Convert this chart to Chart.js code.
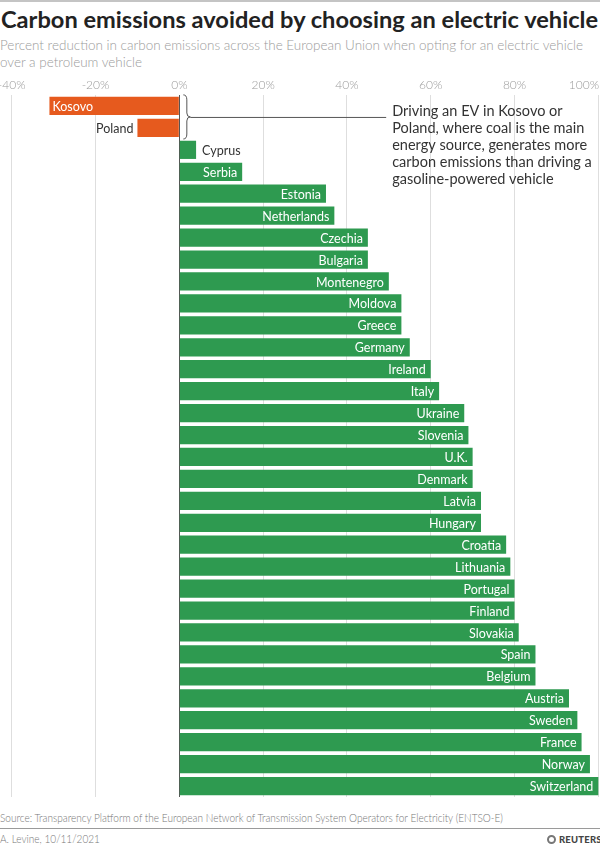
<!DOCTYPE html>
<html>
<head>
<meta charset="utf-8">
<script src="https://cdn.jsdelivr.net/npm/chart.js@4.4.0/dist/chart.umd.min.js"></script>
<style>
  html, body { margin: 0; padding: 0; background: #fff; }
  body { width: 600px; height: 850px; position: relative; overflow: hidden; font-family: Lato, "Noto Sans", sans-serif; }
  #topline { position: absolute; left: 0; top: 0; width: 600px; height: 2px; background: #c4c4c4; }
  .fit { position: absolute; left: 0; white-space: nowrap; transform-origin: 0 50%; }
  #title { left: 1px; top: 4px; font-size: 23px; line-height: 30px; font-weight: 700; color: #222; }
  .sub { font-size: 13.5px; line-height: 17px; font-weight: 300; color: #9b9b9b; }
  #chartBox { position: absolute; left: 0; top: 72px; width: 600px; height: 730px; }
  .foot { font-size: 11.5px; line-height: 16px; font-weight: 300; color: #777; }
  #footline { position: absolute; left: 0; top: 828px; width: 600px; height: 1px; background: #9a9a9a; }
  #reuters { position: absolute; left: 547px; top: 832px; height: 14px; display: flex; align-items: center; }
  #reuters .logo { width: 9px; height: 9px; border-radius: 50%; border: 2px solid #777; box-sizing: border-box; margin-right: 3px; }
  #reuters span { font-size: 9.5px; font-weight: 900; color: #444; letter-spacing: 0.2px; }
</style>
</head>
<body>
<div id="topline"></div>
<div id="title" class="fit">Carbon emissions avoided by choosing an electric vehicle</div>
<div id="sub1" class="fit sub" style="top:37px">Percent reduction in carbon emissions across the European Union when opting for an electric vehicle</div>
<div id="sub2" class="fit sub" style="top:54px">over a petroleum vehicle</div>
<div id="chartBox"><canvas id="chart" width="600" height="730"></canvas></div>
<div id="source" class="fit foot" style="top:810px">Source: Transparency Platform of the European Network of Transmission System Operators for Electricity (ENTSO-E)</div>
<div id="footline"></div>
<div id="byline" class="fit foot" style="top:831px">A. Levine, 10/11/2021</div>
<div id="reuters"><div class="logo"></div><span>REUTERS</span></div>
<script>
// Chart data
const countries = ['Kosovo', 'Poland', 'Cyprus', 'Serbia', 'Estonia', 'Netherlands', 'Czechia', 'Bulgaria',
    'Montenegro', 'Moldova', 'Greece', 'Germany', 'Ireland', 'Italy', 'Ukraine', 'Slovenia', 'U.K.', 'Denmark',
    'Latvia', 'Hungary', 'Croatia', 'Lithuania', 'Portugal', 'Finland', 'Slovakia', 'Spain', 'Belgium',
    'Austria', 'Sweden', 'France', 'Norway', 'Switzerland'];
const reduction = [-31, -10, 4, 15, 35, 37, 45, 45, 50, 53, 53, 55, 60, 62, 68, 69, 70, 70, 72, 72, 78, 79,
    80, 80, 81, 85, 85, 93, 95, 96, 98, 100];
const tickValues = [-40, -20, 0, 20, 40, 60, 80, 100];
const tickLabels = ['-40%', '-20%', '0%', '20%', '40%', '60%', '80%', '100%'];
const noteLines = ['Driving an EV in Kosovo or', 'Poland, where coal is the main', 'energy source, generates more',
    'carbon emissions than driving a', 'gasoline-powered vehicle'];

const GREEN = '#2e9a50';
const ORANGE = '#e65a1e';

// squeeze a text block so it spans the width of the original
function fitWidth(id, target) {
    const el = document.getElementById(id);
    const w = el.getBoundingClientRect().width;
    el.style.transform = 'scaleX(' + (target / w).toFixed(4) + ')';
}
fitWidth('title', 597);
fitWidth('sub1', 583);
document.getElementById('sub2').style.transform = document.getElementById('sub1').style.transform;
fitWidth('source', 503);
document.getElementById('byline').style.transform = document.getElementById('source').style.transform;

// x tick labels along the top; the last one is kept inside the right edge
const topTicks = {
    id: 'topTicks',
    afterDraw(chart) {
        const ctx = chart.ctx;
        const xs = chart.scales.x;
        ctx.save();
        ctx.font = '300 12px Lato';
        ctx.fillStyle = '#9b9b9b';
        ctx.textBaseline = 'middle';
        tickValues.forEach((v, i) => {
            const px = xs.getPixelForValue(v);
            const w = ctx.measureText(tickLabels[i]).width;
            if (px + w / 2 > chart.width) {
                ctx.textAlign = 'right';
                ctx.fillText(tickLabels[i], chart.width - 1, 13);
            } else {
                ctx.textAlign = 'center';
                ctx.fillText(tickLabels[i], px, 13);
            }
        });
        ctx.restore();
    }
};

// country names inside the bar end, or next to it when the bar is too short
const barLabels = {
    id: 'barLabels',
    afterDatasetsDraw(chart) {
        const ctx = chart.ctx;
        const meta = chart.getDatasetMeta(0);
        ctx.save();
        ctx.font = '12.5px Lato';
        ctx.textBaseline = 'middle';
        meta.data.forEach((bar, i) => {
            const name = countries[i];
            const w = ctx.measureText(name).width;
            const len = Math.abs(bar.x - bar.base);
            const inside = w + 10 < len;
            if (reduction[i] >= 0) {
                if (inside) {
                    ctx.fillStyle = '#fff'; ctx.textAlign = 'right';
                    ctx.fillText(name, bar.x - 5, bar.y + 1);
                } else {
                    ctx.fillStyle = '#333'; ctx.textAlign = 'left';
                    ctx.fillText(name, bar.x + 6, bar.y + 1);
                }
            } else {
                if (inside) {
                    ctx.fillStyle = '#fff'; ctx.textAlign = 'left';
                    ctx.fillText(name, bar.x + 3, bar.y + 1);
                } else {
                    ctx.fillStyle = '#333'; ctx.textAlign = 'right';
                    ctx.fillText(name, bar.x - 4, bar.y + 1);
                }
            }
        });
        ctx.restore();
    }
};

// brace around the two negative bars plus the note
const coalNote = {
    id: 'coalNote',
    afterDraw(chart) {
        const ctx = chart.ctx;
        const xs = chart.scales.x;
        const meta = chart.getDatasetMeta(0);
        const b0 = meta.data[0], b1 = meta.data[1];
        const top = b0.y - b0.height / 2 - 2;
        const bottom = b1.y + b1.height / 2 + 2;
        const mid = (top + bottom) / 2;
        const x0 = xs.getPixelForValue(0) + 4;
        const textX = xs.getPixelForValue(50.8);

        ctx.save();
        ctx.strokeStyle = '#555';
        ctx.lineWidth = 1;
        ctx.beginPath();
        ctx.moveTo(x0, top);
        ctx.quadraticCurveTo(x0 + 3.5, top, x0 + 3.5, top + 5);
        ctx.lineTo(x0 + 3.5, mid - 4);
        ctx.quadraticCurveTo(x0 + 3.5, mid, x0 + 7, mid);
        ctx.quadraticCurveTo(x0 + 3.5, mid, x0 + 3.5, mid + 4);
        ctx.lineTo(x0 + 3.5, bottom - 5);
        ctx.quadraticCurveTo(x0 + 3.5, bottom, x0, bottom);
        ctx.stroke();

        ctx.beginPath();
        ctx.moveTo(x0 + 7, mid + 0.5);
        ctx.lineTo(textX - 6, mid + 0.5);
        ctx.stroke();

        ctx.font = '14.5px Lato';
        ctx.fillStyle = '#333';
        ctx.textAlign = 'left';
        ctx.textBaseline = 'middle';
        noteLines.forEach((line, i) => {
            ctx.fillText(line, textX, mid - 6 + i * 17.2);
        });
        ctx.restore();
    }
};

const ctx = document.getElementById('chart').getContext('2d');
const chart = new Chart(ctx, {
    type: 'bar',
    data: {
        labels: countries,
        datasets: [{
            data: reduction,
            backgroundColor: reduction.map(v => v < 0 ? ORANGE : GREEN),
            barPercentage: 0.83,
            categoryPercentage: 1
        }]
    },
    options: {
        indexAxis: 'y',
        responsive: false,
        animation: false,
        layout: { padding: { top: 23, bottom: 5, left: 0, right: 0 } },
        plugins: {
            legend: { display: false },
            tooltip: { enabled: false }
        },
        scales: {
            x: {
                position: 'top',
                min: -42.8,
                max: 100.4,
                afterBuildTicks: (scale) => { scale.ticks = tickValues.map(v => ({ value: v })); },
                ticks: { display: false },
                border: { display: false },
                grid: {
                    drawTicks: false,
                    color: (c) => (c.tick && c.tick.value === 0) ? '#555' : '#dedede',
                    lineWidth: 1
                }
            },
            y: { display: false }
        }
    },
    plugins: [topTicks, barLabels, coalNote]
});
</script>
</body>
</html>
